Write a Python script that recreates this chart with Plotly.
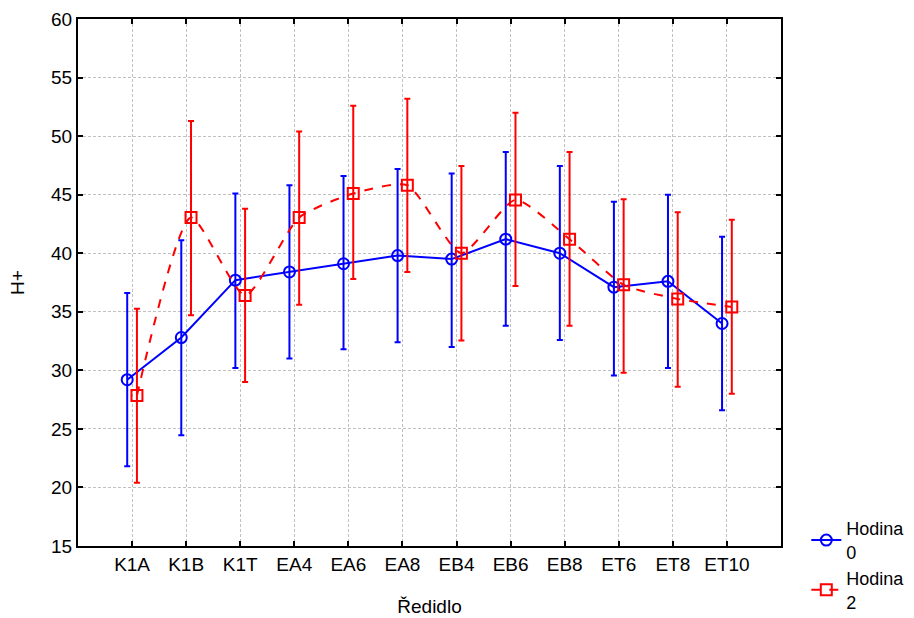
import plotly.graph_objects as go

categories = ["K1A", "K1B", "K1T", "EA4", "EA6", "EA8", "EB4", "EB6", "EB8", "ET6", "ET8", "ET10"]

h0_mean = [29.2, 32.8, 37.7, 38.4, 39.1, 39.8, 39.5, 41.2, 40.0, 37.1, 37.6, 34.0]
h0_upper = [36.6, 41.1, 45.1, 45.8, 46.6, 47.2, 46.8, 48.65, 47.45, 44.4, 45.0, 41.4]
h0_lower = [21.8, 24.45, 30.2, 31.0, 31.8, 32.4, 32.0, 33.8, 32.6, 29.55, 30.2, 26.6]

h2_mean = [27.85, 43.05, 36.4, 43.05, 45.1, 45.8, 40.0, 44.55, 41.2, 37.3, 36.1, 35.4]
h2_upper = [35.25, 51.3, 43.8, 50.4, 52.6, 53.2, 47.45, 52.0, 48.65, 44.6, 43.5, 42.85]
h2_lower = [20.4, 34.7, 29.0, 35.6, 37.8, 38.4, 32.55, 37.2, 33.8, 29.8, 28.6, 28.0]

offset = 0.09
idx = list(range(len(categories)))
x0 = [i - offset for i in idx]
x2 = [i + offset for i in idx]

FONT = "Liberation Sans, Arial, sans-serif"

fig = go.Figure()
fig.add_trace(go.Scatter(
    x=x0, y=h0_mean, name="Hodina<br>0", mode="lines+markers",
    line=dict(color="#0000FF", width=2),
    marker=dict(symbol="circle-open", size=11, color="#0000FF", line=dict(width=2)),
    error_y=dict(type="data", symmetric=False,
                 array=[u - m for u, m in zip(h0_upper, h0_mean)],
                 arrayminus=[m - l for m, l in zip(h0_mean, h0_lower)],
                 color="#0000FF", thickness=2, width=3),
))
fig.add_trace(go.Scatter(
    x=x2, y=h2_mean, name="Hodina<br>2", mode="lines+markers",
    line=dict(color="#FF0000", width=2, dash="dash", shape="spline", smoothing=0.6),
    marker=dict(symbol="square-open", size=11, color="#FF0000", line=dict(width=2)),
    error_y=dict(type="data", symmetric=False,
                 array=[u - m for u, m in zip(h2_upper, h2_mean)],
                 arrayminus=[m - l for m, l in zip(h2_mean, h2_lower)],
                 color="#FF0000", thickness=2, width=3),
))

fig.update_layout(
    width=914, height=618,
    margin=dict(l=78, r=133, t=19, b=72, autoexpand=False),
    paper_bgcolor="white", plot_bgcolor="white",
    font=dict(family=FONT, size=19, color="black"),
    legend=dict(x=1.036, xanchor="left", y=0.068, yanchor="top",
                font=dict(size=18), tracegroupgap=0, itemwidth=30,
                bgcolor="rgba(0,0,0,0)"),
)
fig.update_xaxes(
    range=[-1, 12], tickmode="array", tickvals=idx, ticktext=categories,
    showline=True, linecolor="black", linewidth=2, mirror="ticks",
    ticks="inside", ticklen=5, tickwidth=2, tickcolor="black",
    showgrid=True, gridcolor="#C0C0C0", griddash="3px,2px", gridwidth=1,
    zeroline=False, tickfont=dict(size=19), automargin=False,
    title=dict(text="Ředidlo", font=dict(size=19), standoff=26),
)
fig.update_yaxes(
    range=[15, 60], dtick=5, tick0=15,
    showline=True, linecolor="black", linewidth=2, mirror="ticks",
    ticks="inside", ticklen=5, tickwidth=2, tickcolor="black",
    showgrid=True, gridcolor="#C0C0C0", griddash="3px,2px", gridwidth=1,
    zeroline=False, tickfont=dict(size=19), automargin=False,
    title=dict(text="H+", font=dict(size=19), standoff=21),
)

fig.write_html("out.html")
